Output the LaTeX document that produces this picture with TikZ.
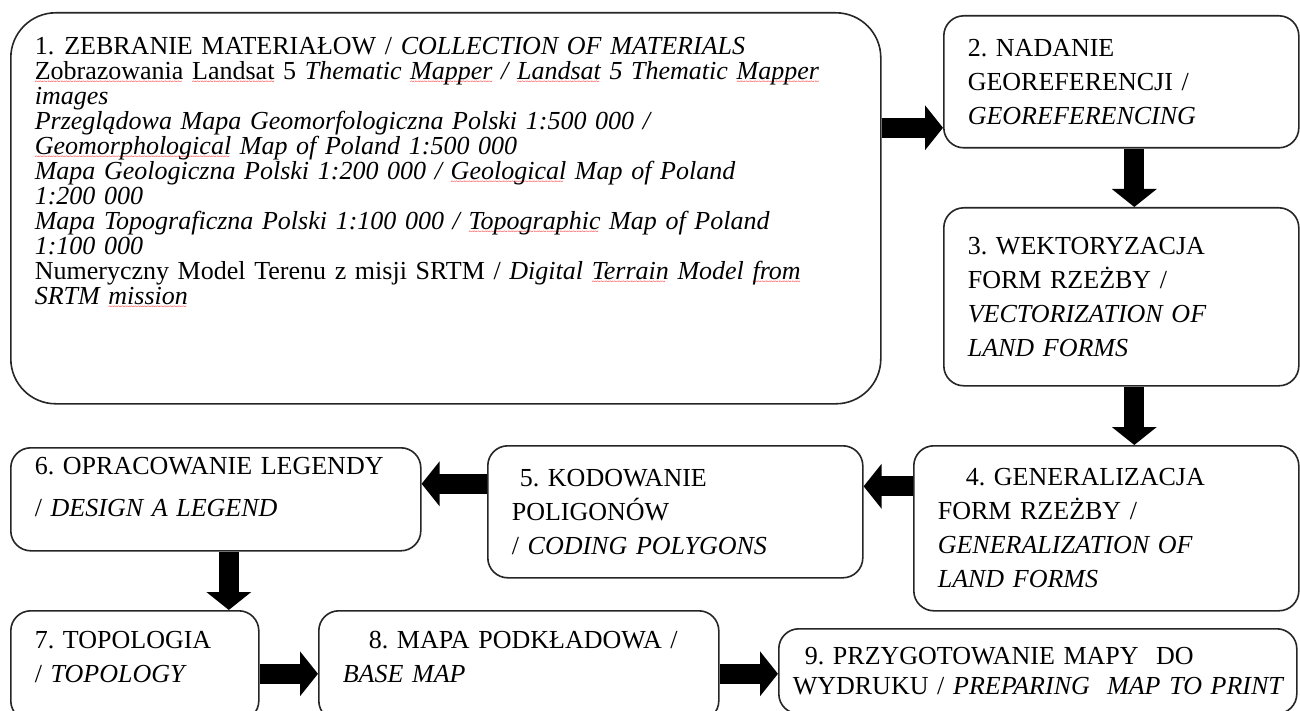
\documentclass[tikz,border=0pt]{standalone}
\usepackage{fontspec}
\setmainfont{Liberation Serif}
\usetikzlibrary{arrows.meta}

% czerwone podkreślenie jak w edytorze
\newcommand{\blad}[1]{\leavevmode\begingroup\setbox0=\hbox{#1}\rlap{\lower5pt\hbox to \wd0{\color{red}\fontsize{8}{8}\selectfont\leaders\hbox{\textasciitilde}\hfill}}\box0\relax\endgroup}

\tikzset{
  etap/.style={draw=black!85, line width=1.6pt, rounded corners=20pt, fill=white,
    anchor=north west, align=left, inner xsep=24pt, inner ysep=0pt,
    font=\fontsize{26}{34}\selectfont},
  strzalka/.style={line width=20pt, -{Triangle[length=18pt,width=44pt]}}
}

\begin{document}
\frenchspacing
\begin{tikzpicture}[x=1pt, y=-1pt]
\useasboundingbox (0,0) rectangle (1300,711);
\clip (0,0) rectangle (1300,711);
\fill[white] (0,0) rectangle (1300,711);

% Etap 1 - materialy
\node[etap, rounded corners=45pt, text width=822pt, minimum height=391pt,
  font=\fontsize{26}{25}\selectfont] (zebranie) at (10,12) {1.\hspace{10pt}ZEBRANIE MATERIAŁOW / \textit{COLLECTION OF MATERIALS}\\
\blad{Zobrazowania} \blad{Landsat} 5 \textit{Thematic \blad{Mapper} / \blad{Landsat} 5 Thematic \blad{Mapper}}\\
\textit{images}\\
\textit{Przeglądowa Mapa Geomorfologiczna Polski 1:500 000 /}\\
\textit{\blad{Geomorphological} Map of Poland 1:500 000}\\
\textit{Mapa Geologiczna Polski 1:200 000 / \blad{Geological} Map of Poland}\\
\textit{1:200 000}\\
\textit{Mapa Topograficzna Polski 1:100 000 / \blad{Topographic} Map of Poland}\\
\textit{1:100 000}\\
Numeryczny Model Terenu z misji SRTM / \textit{Digital \blad{Terrain} Model \blad{from}}\\
\textit{SRTM \blad{mission}}\\[49pt]\mbox{}};

% Prawa kolumna
\node[etap, text width=307pt, minimum height=132pt] (georef) at (943,15)
  {2. NADANIE\\GEOREFERENCJI /\\\textit{GEOREFERENCING}};
\node[etap, text width=307pt, minimum height=178pt] (wektor) at (943,207)
  {3. WEKTORYZACJA\\FORM RZEŻBY /\\\textit{VECTORIZATION OF}\\\textit{LAND FORMS}};
\node[etap, text width=337pt, minimum height=165pt] (general) at (913,445)
  {\hspace*{28pt}4. GENERALIZACJA\\FORM RZEŻBY /\\\textit{GENERALIZATION OF}\\\textit{LAND FORMS}};

% Srodkowy rzad
\node[etap, text width=327pt, minimum height=132pt] (kodowanie) at (487,445)
  {\hspace*{8pt}5. KODOWANIE\\POLIGONÓW\\/ \textit{CODING POLYGONS}};
\node[etap, text width=362pt, minimum height=103pt] (legenda) at (10,447)
  {6. OPRACOWANIE LEGENDY\\[8pt]/ \textit{DESIGN A LEGEND}\\[-9pt]\mbox{}};

% Dolny rzad (ucięty)
\node[etap, text width=200pt, minimum height=110pt] (topologia) at (10,610)
  {7. TOPOLOGIA\\/ \textit{TOPOLOGY}\\[-16pt]\mbox{}};
\node[etap, text width=352pt, minimum height=110pt] (podklad) at (318,610)
  {\hspace*{26pt}8. MAPA PODKŁADOWA /\\\textit{BASE MAP}\\[-16pt]\mbox{}};
\node[etap, inner xsep=14pt, text width=490pt, minimum height=85pt,
  font=\fontsize{26}{30}\selectfont] (wydruk) at (778,628)
  {\hspace*{12pt}9. PRZYGOTOWANIE MAPY~ DO\\\mbox{WYDRUKU / \textit{PREPARING~ MAP TO PRINT}}};

% Strzalki
\coordinate (s12) at ([yshift=-46pt]georef.west);
\draw[strzalka] (zebranie.east |- s12) -- (s12);
\coordinate (s23) at ([xshift=13pt]georef.south);
\draw[strzalka] (s23) -- (s23 |- wektor.north);
\coordinate (s34) at ([xshift=13pt]wektor.south);
\draw[strzalka] (s34) -- (s34 |- general.north);
\coordinate (s45) at ([yshift=42pt]general.west);
\draw[strzalka] (s45) -- (s45 -| kodowanie.east);
\coordinate (s56) at ([yshift=28pt]kodowanie.west);
\draw[strzalka] (s56) -- (s56 -| legenda.east);
\coordinate (s67) at ([xshift=13pt]legenda.south);
\draw[strzalka] (s67) -- (s67 |- topologia.north);
\coordinate (s78) at ([yshift=-8pt]topologia.east);
\draw[strzalka] (s78) -- (s78 -| podklad.west);
\coordinate (s89) at ([yshift=-8pt]podklad.east);
\draw[strzalka] (s89) -- (s89 -| wydruk.west);
\end{tikzpicture}
\end{document}
